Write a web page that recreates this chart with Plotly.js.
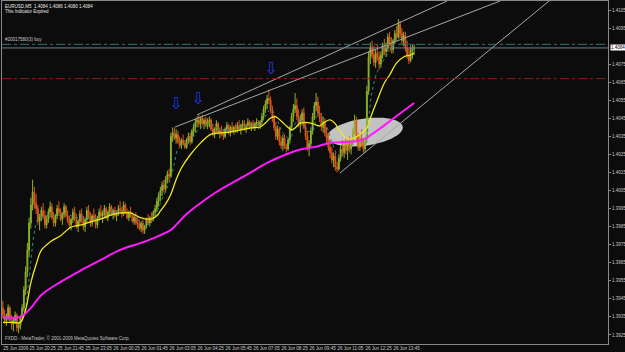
<!DOCTYPE html>
<html><head><meta charset="utf-8">
<script src="https://cdn.plot.ly/plotly-3.0.1.min.js"></script>
<style>html,body{margin:0;padding:0;background:#0c0c0c;overflow:hidden}#chart{width:625px;height:352px}</style>
</head><body><div id="chart"></div>
<script>
// EURUSD M5 bars (bar index 0 = 25 Jun 19:10)
const open = [1.3940,1.3936,1.3933,1.3935,1.3940,1.3934,1.3931,1.3933,1.3936,1.3929,
1.3930,1.3935,1.3940,1.3950,1.3960,1.3972,1.3987,1.3997,1.4004,1.3998,
1.3995,1.3988,1.3990,1.3994,1.3991,1.3986,1.3989,1.3993,1.3996,1.3990,
1.3987,1.3991,1.3995,1.3993,1.3989,1.3992,1.3996,1.3991,1.3988,1.3986,
1.3989,1.3993,1.3989,1.3985,1.3988,1.3992,1.3988,1.3985,1.3989,1.3994,
1.3990,1.3987,1.3991,1.3989,1.3986,1.3990,1.3993,1.3991,1.3992,1.3995,
1.3990,1.3993,1.3996,1.3992,1.3994,1.3991,1.3993,1.3995,1.3994,1.3992,
1.3997,1.3993,1.3990,1.3993,1.3991,1.3988,1.3990,1.3987,1.3986,1.3984,
1.3987,1.3983,1.3985,1.3989,1.3987,1.3990,1.3989,1.3993,1.3995,1.3999,
1.4002,1.4005,1.4008,1.4006,1.4011,1.4014,1.4013,1.4035,1.4037,1.4034,
1.4036,1.4032,1.4030,1.4033,1.4031,1.4029,1.4033,1.4035,1.4032,1.4038,
1.4040,1.4043,1.4044,1.4042,1.4045,1.4042,1.4044,1.4041,1.4043,1.4044,
1.4039,1.4036,1.4039,1.4042,1.4037,1.4038,1.4036,1.4035,1.4039,1.4041,
1.4037,1.4040,1.4038,1.4040,1.4039,1.4041,1.4039,1.4041,1.4042,1.4039,
1.4041,1.4043,1.4040,1.4042,1.4040,1.4042,1.4043,1.4041,1.4043,1.4046,
1.4050,1.4053,1.4056,1.4055,1.4050,1.4045,1.4040,1.4035,1.4039,1.4032,
1.4030,1.4034,1.4029,1.4028,1.4033,1.4040,1.4046,1.4050,1.4052,1.4046,
1.4042,1.4044,1.4048,1.4040,1.4035,1.4029,1.4031,1.4038,1.4046,1.4052,
1.4054,1.4048,1.4045,1.4040,1.4043,1.4037,1.4034,1.4029,1.4026,1.4022,
1.4024,1.4018,1.4017,1.4023,1.4028,1.4026,1.4030,1.4027,1.4031,1.4028,
1.4032,1.4038,1.4044,1.4035,1.4029,1.4034,1.4031,1.4028,1.4033,1.4060,
1.4079,1.4084,1.4080,1.4076,1.4081,1.4079,1.4075,1.4080,1.4085,1.4082,
1.4084,1.4090,1.4087,1.4083,1.4088,1.4092,1.4090,1.4097,1.4092,1.4088,
1.4091,1.4084,1.4080,1.4077,1.4083,1.4084];
const high = [1.3944,1.3939,1.3937,1.3942,1.3941,1.3936,1.3935,1.3938,1.3937,1.3932,
1.3936,1.3942,1.3952,1.3963,1.3976,1.3990,1.4001,1.4011,1.4007,1.4003,
1.3997,1.3992,1.3996,1.3998,1.3994,1.3991,1.3995,1.3999,1.3998,1.3993,
1.3992,1.3997,1.3999,1.3995,1.3993,1.3998,1.3997,1.3994,1.3991,1.3990,
1.3995,1.3996,1.3992,1.3989,1.3994,1.3995,1.3991,1.3990,1.3996,1.3997,
1.3993,1.3992,1.3995,1.3992,1.3991,1.3995,1.3997,1.3994,1.3997,1.3996,
1.3994,1.3998,1.3997,1.3995,1.3996,1.3994,1.3997,1.3999,1.3996,1.3999,
1.3998,1.3995,1.3994,1.3996,1.3993,1.3992,1.3993,1.3990,1.3989,1.3988,
1.3989,1.3986,1.3990,1.3992,1.3991,1.3993,1.3994,1.3997,1.4001,1.4004,
1.4007,1.4010,1.4011,1.4013,1.4016,1.4017,1.4037,1.4040,1.4040,1.4039,
1.4038,1.4035,1.4034,1.4036,1.4033,1.4034,1.4037,1.4037,1.4039,1.4042,
1.4045,1.4046,1.4047,1.4046,1.4047,1.4045,1.4046,1.4045,1.4046,1.4045,
1.4042,1.4040,1.4044,1.4043,1.4040,1.4041,1.4039,1.4040,1.4043,1.4042,
1.4041,1.4043,1.4041,1.4042,1.4043,1.4044,1.4042,1.4044,1.4044,1.4042,
1.4045,1.4044,1.4043,1.4044,1.4043,1.4045,1.4044,1.4044,1.4048,1.4052,
1.4055,1.4058,1.4061,1.4057,1.4052,1.4047,1.4043,1.4041,1.4040,1.4035,
1.4036,1.4036,1.4031,1.4034,1.4041,1.4048,1.4053,1.4059,1.4056,1.4050,
1.4047,1.4050,1.4051,1.4043,1.4038,1.4033,1.4040,1.4048,1.4054,1.4059,
1.4057,1.4052,1.4048,1.4046,1.4045,1.4040,1.4037,1.4033,1.4029,1.4026,
1.4026,1.4021,1.4025,1.4030,1.4033,1.4032,1.4034,1.4033,1.4035,1.4034,
1.4040,1.4047,1.4046,1.4037,1.4036,1.4039,1.4034,1.4035,1.4063,1.4082,
1.4087,1.4088,1.4085,1.4083,1.4086,1.4082,1.4082,1.4087,1.4089,1.4087,
1.4092,1.4093,1.4090,1.4089,1.4094,1.4096,1.4100,1.4099,1.4095,1.4093,
1.4093,1.4088,1.4084,1.4085,1.4086,1.4086];
const low = [1.3934,1.3931,1.3930,1.3933,1.3932,1.3928,1.3927,1.3931,1.3927,1.3926,
1.3928,1.3933,1.3938,1.3947,1.3957,1.3968,1.3984,1.3994,1.3995,1.3992,
1.3986,1.3983,1.3988,1.3989,1.3984,1.3984,1.3987,1.3990,1.3989,1.3985,
1.3985,1.3989,1.3992,1.3988,1.3986,1.3990,1.3990,1.3987,1.3984,1.3983,
1.3987,1.3988,1.3984,1.3982,1.3986,1.3987,1.3983,1.3982,1.3987,1.3989,
1.3985,1.3985,1.3988,1.3984,1.3984,1.3988,1.3990,1.3987,1.3990,1.3989,
1.3988,1.3991,1.3991,1.3989,1.3990,1.3988,1.3991,1.3992,1.3990,1.3991,
1.3992,1.3989,1.3988,1.3990,1.3987,1.3986,1.3986,1.3984,1.3983,1.3982,
1.3981,1.3981,1.3984,1.3986,1.3985,1.3987,1.3988,1.3991,1.3993,1.3996,
1.3999,1.4002,1.4004,1.4004,1.4009,1.4010,1.4012,1.4032,1.4033,1.4031,
1.4031,1.4029,1.4028,1.4030,1.4028,1.4028,1.4031,1.4030,1.4031,1.4035,
1.4037,1.4040,1.4040,1.4039,1.4041,1.4039,1.4040,1.4039,1.4040,1.4038,
1.4035,1.4034,1.4037,1.4036,1.4034,1.4035,1.4033,1.4034,1.4037,1.4036,
1.4035,1.4037,1.4036,1.4037,1.4037,1.4038,1.4036,1.4039,1.4038,1.4037,
1.4039,1.4039,1.4038,1.4039,1.4038,1.4040,1.4039,1.4039,1.4041,1.4044,
1.4048,1.4050,1.4053,1.4048,1.4043,1.4038,1.4033,1.4033,1.4030,1.4028,
1.4027,1.4028,1.4026,1.4027,1.4031,1.4038,1.4043,1.4048,1.4044,1.4040,
1.4037,1.4041,1.4039,1.4033,1.4027,1.4024,1.4029,1.4036,1.4044,1.4049,
1.4046,1.4043,1.4038,1.4037,1.4035,1.4031,1.4027,1.4023,1.4020,1.4018,
1.4016,1.4015,1.4016,1.4021,1.4024,1.4023,1.4025,1.4022,1.4026,1.4025,
1.4030,1.4036,1.4033,1.4027,1.4027,1.4029,1.4026,1.4026,1.4031,1.4058,
1.4075,1.4078,1.4074,1.4073,1.4077,1.4072,1.4073,1.4078,1.4080,1.4079,
1.4082,1.4085,1.4081,1.4081,1.4086,1.4088,1.4089,1.4090,1.4086,1.4085,
1.4082,1.4078,1.4075,1.4076,1.4078,1.4080];
const close = [1.3936,1.3933,1.3935,1.3940,1.3934,1.3931,1.3933,1.3936,1.3929,1.3930,
1.3935,1.3940,1.3950,1.3960,1.3972,1.3987,1.3997,1.4004,1.3998,1.3995,
1.3988,1.3990,1.3994,1.3991,1.3986,1.3989,1.3993,1.3996,1.3990,1.3987,
1.3991,1.3995,1.3993,1.3989,1.3992,1.3996,1.3991,1.3988,1.3986,1.3989,
1.3993,1.3989,1.3985,1.3988,1.3992,1.3988,1.3985,1.3989,1.3994,1.3990,
1.3987,1.3991,1.3989,1.3986,1.3990,1.3993,1.3991,1.3992,1.3995,1.3990,
1.3993,1.3996,1.3992,1.3994,1.3991,1.3993,1.3995,1.3994,1.3992,1.3997,
1.3993,1.3990,1.3993,1.3991,1.3988,1.3990,1.3987,1.3986,1.3984,1.3987,
1.3983,1.3985,1.3989,1.3987,1.3990,1.3989,1.3993,1.3995,1.3999,1.4002,
1.4005,1.4008,1.4006,1.4011,1.4014,1.4013,1.4035,1.4037,1.4034,1.4036,
1.4032,1.4030,1.4033,1.4031,1.4029,1.4033,1.4035,1.4032,1.4038,1.4040,
1.4043,1.4044,1.4042,1.4045,1.4042,1.4044,1.4041,1.4043,1.4044,1.4039,
1.4036,1.4039,1.4042,1.4037,1.4038,1.4036,1.4035,1.4039,1.4041,1.4037,
1.4040,1.4038,1.4040,1.4039,1.4041,1.4039,1.4041,1.4042,1.4039,1.4041,
1.4043,1.4040,1.4042,1.4040,1.4042,1.4043,1.4041,1.4043,1.4046,1.4050,
1.4053,1.4056,1.4055,1.4050,1.4045,1.4040,1.4035,1.4039,1.4032,1.4030,
1.4034,1.4029,1.4028,1.4033,1.4040,1.4046,1.4050,1.4052,1.4046,1.4042,
1.4044,1.4048,1.4040,1.4035,1.4029,1.4031,1.4038,1.4046,1.4052,1.4054,
1.4048,1.4045,1.4040,1.4043,1.4037,1.4034,1.4029,1.4026,1.4022,1.4024,
1.4018,1.4017,1.4023,1.4028,1.4026,1.4030,1.4027,1.4031,1.4028,1.4032,
1.4038,1.4044,1.4035,1.4029,1.4034,1.4031,1.4028,1.4033,1.4060,1.4079,
1.4084,1.4080,1.4076,1.4081,1.4079,1.4075,1.4080,1.4085,1.4082,1.4084,
1.4090,1.4087,1.4083,1.4088,1.4092,1.4090,1.4097,1.4092,1.4088,1.4091,
1.4084,1.4080,1.4077,1.4083,1.4084,1.4084];

// Moving averages, read at sampled bars
const yellowBars = [0,6,10,13,16,19,22,27,33,39,45,50,56,62,67,73,79,85,88,90,93,96,99,102,107,113,119,125,130,136,142,147,150,153,156,159,162,165,167,170,176,179,181,184,187,190,192,196,199,202,205,208,210,214,218,221,225,229,233,235];
const yellowMA = [1.3932,1.3932,1.3932,1.3939,1.3954,1.3964,1.3972,1.39765,1.3980,1.39848,1.3986,1.39876,1.39893,1.39915,1.39926,1.39926,1.39898,1.39893,1.3991,1.39937,1.39976,1.4003,1.4011,1.40175,1.40247,1.40314,1.40363,1.40369,1.40375,1.40386,1.40397,1.40402,1.40424,1.40452,1.40458,1.40435,1.40408,1.40386,1.40397,1.40424,1.40424,1.40413,1.40408,1.4043,1.40441,1.40419,1.40386,1.40341,1.40336,1.40347,1.40369,1.40397,1.40452,1.40552,1.40646,1.4069,1.40757,1.4079,1.40801,1.40812];
const magentaBars = [0,10,16,22,33,45,56,67,79,85,96,99,105,113,122,131,141,151,161,169,178,187,196,203,207,211,216,225,235];
const magentaMA = [1.3935,1.3935,1.3940,1.39472,1.39544,1.3961,1.39666,1.39721,1.3976,1.39782,1.39832,1.3986,1.3992,1.39981,1.40042,1.40092,1.40147,1.40203,1.40247,1.40275,1.40291,1.40314,1.40319,1.40325,1.40336,1.40363,1.40397,1.40463,1.40535];
const tealBars = [0,6,10,12,14,16,18,20,24,30,36,42,48,54,60,66,72,78,82,86,90,94,96,98,100,104,108,112,118,124,130,136,142,147,150,153,156,160,164,167,170,174,177,180,184,188,192,196,200,204,207,209,211,214,218,222,226,230,235];
const tealMA = [1.3934,1.3933,1.3932,1.3936,1.3948,1.3966,1.3982,1.3989,1.3991,1.3991,1.3992,1.3990,1.3990,1.3989,1.3992,1.3993,1.3993,1.3988,1.3986,1.3989,1.3998,1.4007,1.4012,1.4020,1.4028,1.4031,1.4034,1.4039,1.4042,1.4039,1.4038,1.4040,1.4041,1.4042,1.4046,1.4050,1.4046,1.4037,1.4034,1.4042,1.4045,1.4038,1.4038,1.4048,1.4043,1.4032,1.4024,1.4026,1.4031,1.4033,1.4031,1.4045,1.4060,1.4071,1.4078,1.4084,1.4090,1.4088,1.4083];

// Trendlines (bar, price) start/end
const trend1Bars = [110.9, 253.8], trend1Prices = [1.40469, 1.4110];
const trend2Bars = [98.4, 284.1],  trend2Prices = [1.40402, 1.4110];
const trend3Bars = [192.6, 312.1], trend3Prices = [1.40147, 1.4110];

// Arrows
const arrowBars = [98.9, 111.5, 153.2];
const arrowPrices = [1.40524, 1.40552, 1.40718];

// Horizontal levels
const orderPrice = 1.4086, bidPrice = 1.4084, stopPrice = 1.4067;

// Ellipse (center bar, center price, radii px, angle deg)
const ellCenter = [207, 1.40374], ellRadii = [38, 13.5], ellAngle = 8;

// Axis labels
const timeTickBars = [0,15,31,47,63,79,95,111,127,143,159,175,191,207,223];
const timeTickLabels = ['25 Jun 2009','25 Jun 20:25','25 Jun 21:45','25 Jun 23:05','26 Jun 00:25','26 Jun 01:45','26 Jun 03:05','26 Jun 04:25','26 Jun 05:45','26 Jun 07:05','26 Jun 08:25','26 Jun 09:45','26 Jun 11:05','26 Jun 12:25','26 Jun 13:45'];
const priceTicks = [1.4105,1.4095,1.4075,1.4065,1.4055,1.4045,1.4035,1.4025,1.4015,1.4005,1.3995,1.3985,1.3975,1.3965,1.3955,1.3945,1.3935,1.3925];

const xRange = [-0.5, 345.8], yRange = [1.3920, 1.4110];
const W = 625, H = 352, M = {l:2, r:17, t:1, b:8};
const plotW = W - M.l - M.r, plotH = H - M.t - M.b;
const pxPerBar = plotW / (xRange[1]-xRange[0]);
const pxPerPrice = plotH / (yRange[1]-yRange[0]);

const bars = close.map((_, i) => i);
const FONT = 'Liberation Sans, Arial, sans-serif';

// rotated ellipse path
let pth = '';
const th = ellAngle*Math.PI/180;
for (let k = 0; k <= 72; k++) {
  const t = k/72*2*Math.PI;
  const dx = ellRadii[0]*Math.cos(t)*Math.cos(th) - ellRadii[1]*Math.sin(t)*Math.sin(th);
  const dy = ellRadii[0]*Math.cos(t)*Math.sin(th) + ellRadii[1]*Math.sin(t)*Math.cos(th);
  const x = ellCenter[0] + dx/pxPerBar, y = ellCenter[1] + dy/pxPerPrice;
  pth += (k===0?'M':'L') + x.toFixed(3) + ',' + y.toFixed(6) + ' ';
}
pth += 'Z';

const traces = [
  {type:'candlestick', x:bars, open:open, high:high, low:low, close:close,
   increasing:{line:{color:'#8db42a', width:1}, fillcolor:'#8db42a'},
   decreasing:{line:{color:'#e0561e', width:1}, fillcolor:'#e0561e'},
   whiskerwidth:0, hoverinfo:'skip', showlegend:false},
  {type:'scatter', mode:'lines', x:tealBars, y:tealMA, line:{color:'#2f8a86', width:1, dash:'dot', shape:'spline'}, hoverinfo:'skip', showlegend:false},
  {type:'scatter', mode:'lines', x:yellowBars, y:yellowMA, line:{color:'#f0e81a', width:1.3, shape:'spline'}, hoverinfo:'skip', showlegend:false},
  {type:'scatter', mode:'lines', x:magentaBars, y:magentaMA, line:{color:'#ff1aff', width:2, shape:'spline'}, hoverinfo:'skip', showlegend:false},
  {type:'scatter', mode:'lines', x:trend1Bars, y:trend1Prices, line:{color:'#a8a8a8', width:1}, hoverinfo:'skip', showlegend:false},
  {type:'scatter', mode:'lines', x:trend2Bars, y:trend2Prices, line:{color:'#a8a8a8', width:1}, hoverinfo:'skip', showlegend:false},
  {type:'scatter', mode:'lines', x:trend3Bars, y:trend3Prices, line:{color:'#a8a8a8', width:1}, hoverinfo:'skip', showlegend:false},
  {type:'scatter', mode:'text', x:arrowBars, y:arrowPrices, text:arrowBars.map(()=>'\u21E9'),
   textfont:{family:'DejaVu Sans', size:16, color:'#2038e0'}, textposition:'middle center', hoverinfo:'skip', showlegend:false, cliponaxis:false}
];

const last = close.length-1;
const header = 'EURUSD,M5  ' + [open[last],high[last],low[last],close[last]].map(v=>v.toFixed(4)).join(' ');

const layout = {
  width:W, height:H, margin:M,
  paper_bgcolor:'#0c0c0c', plot_bgcolor:'#0c0c0c',
  font:{family:FONT, size:4.5, color:'#c8c8c8'},
  showlegend:false,
  xaxis:{range:xRange, showgrid:false, zeroline:false, showline:true, mirror:true, linecolor:'#8a8a8a', linewidth:1,
         tickmode:'array', tickvals:timeTickBars, ticktext:timeTickLabels, ticks:'', tickangle:0,
         ticklabelposition:'outside right', tickfont:{family:FONT, size:4.5, color:'#c8c8c8'},
         rangeslider:{visible:false}, fixedrange:true},
  yaxis:{range:yRange, side:'right', showgrid:false, zeroline:false, showline:true, mirror:true, linecolor:'#8a8a8a', linewidth:1,
         tickmode:'array', tickvals:priceTicks, ticktext:priceTicks.map(v=>v.toFixed(4)),
         ticks:'outside', ticklen:2, tickcolor:'#8a8a8a', tickfont:{family:FONT, size:4.5, color:'#c8c8c8'}, fixedrange:true},
  shapes:[
    {type:'path', path:pth, xref:'x', yref:'y', layer:'below', fillcolor:'#c2c2c2', line:{width:0}},
    {type:'line', xref:'paper', x0:0, x1:1, yref:'y', y0:orderPrice, y1:orderPrice, line:{color:'#2a7a68', width:1, dash:'dashdot'}},
    {type:'line', xref:'paper', x0:0, x1:1, yref:'y', y0:bidPrice, y1:bidPrice, line:{color:'#6f7f90', width:1}},
    {type:'line', xref:'paper', x0:0, x1:1, yref:'y', y0:stopPrice, y1:stopPrice, line:{color:'#8c1c1c', width:1, dash:'dashdot'}}
  ],
  annotations:[
    {xref:'paper', yref:'paper', x:0, y:1, xanchor:'left', yanchor:'top', xshift:1, yshift:-1, text:header, showarrow:false, font:{family:FONT, size:4.5, color:'#e8e8e8'}},
    {xref:'paper', yref:'paper', x:0, y:1, xanchor:'left', yanchor:'top', xshift:1, yshift:-6, text:'This Indicator Expired', showarrow:false, font:{family:FONT, size:4.5, color:'#e8e8e8'}},
    {xref:'paper', yref:'y', x:0, y:orderPrice, xanchor:'left', yanchor:'bottom', xshift:1, yshift:0, text:'#20017580(3) buy', showarrow:false, font:{family:FONT, size:4.5, color:'#c8c8c8'}},
    {xref:'paper', yref:'paper', x:0, y:0, xanchor:'left', yanchor:'bottom', xshift:1, yshift:1, text:'FXDD - MetaTrader, \u00A9 2001-2009 MetaQuotes Software Corp.', showarrow:false, font:{family:FONT, size:4.5, color:'#c8c8c8'}},
    {xref:'paper', yref:'y', x:1, y:bidPrice, xanchor:'left', yanchor:'middle', xshift:2, text:bidPrice.toFixed(4), showarrow:false, bgcolor:'#ffffff', borderpad:0, font:{family:FONT, size:4.5, color:'#000000'}}
  ]
};

Plotly.newPlot('chart', traces, layout, {displayModeBar:false, staticPlot:true});
</script>
</body></html>
